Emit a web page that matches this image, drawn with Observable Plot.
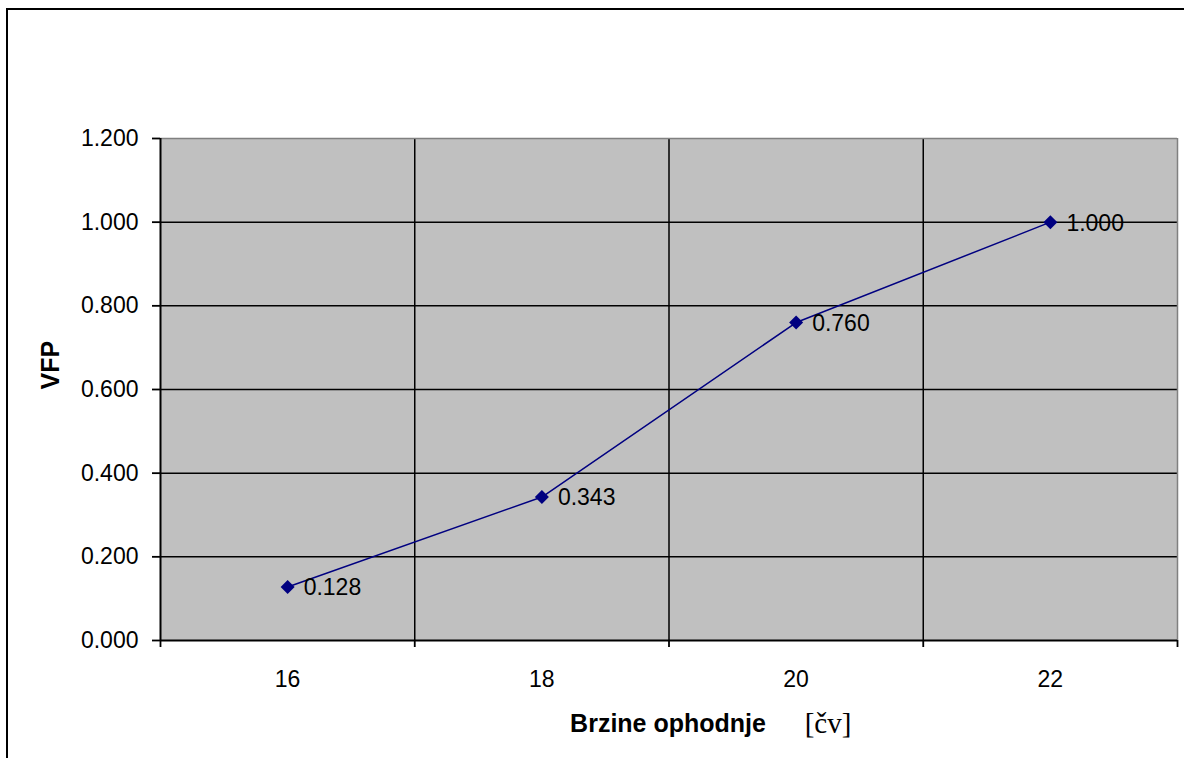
<!DOCTYPE html>
<html>
<head>
<meta charset="utf-8">
<script src="https://cdn.jsdelivr.net/npm/d3@7"></script>
<script src="https://cdn.jsdelivr.net/npm/@observablehq/plot@0.6"></script>
<style>
  html, body { margin: 0; padding: 0; background: #fff; overflow: hidden; }
  #wrap { position: relative; width: 1184px; height: 758px; overflow: hidden; }
  #frame { position: absolute; left: 6px; top: 8px; width: 1300px; height: 900px; border-left: 2px solid #000; border-top: 2px solid #000; box-sizing: border-box; pointer-events: none; }
  #chart { position: absolute; left: 0; top: 0; }
</style>
</head>
<body>
<div id="wrap"><div id="chart"></div><div id="frame"></div></div>
<script>
// Data
const speeds = [16, 18, 20, 22];
const vfp = [0.128, 0.343, 0.760, 1.000];
const yTicks = [0, 0.2, 0.4, 0.6, 0.8, 1.0, 1.2];
const xLabels = [16, 18, 20, 22];
const xEdges = [15, 17, 19, 21, 23];
const xTitle = "Brzine ophodnje";
const xUnit = "[čv]";
const yTitle = "VFP";

const data = speeds.map((s, i) => ({speed: s, value: vfp[i]}));
const fmt = d3.format(".3f");
const sans = "'Liberation Sans', Arial, Helvetica, sans-serif";

const chart = Plot.plot({
  width: 1184,
  height: 758,
  marginLeft: 160,
  marginRight: 7,
  marginTop: 138,
  marginBottom: 118,
  style: {fontFamily: sans, background: "transparent", color: "#000", overflow: "visible"},
  x: {type: "linear", domain: [15, 23], axis: null},
  y: {domain: [0, 1.2], axis: null},
  marks: [
    Plot.frame({fill: "#c0c0c0", stroke: null}),
    // horizontal gridlines
    Plot.ruleY(yTicks.slice(1, -1), {stroke: "#000", strokeWidth: 1.5}),
    // vertical gridlines at category boundaries
    Plot.ruleX(xEdges.slice(1, -1), {stroke: "#000", strokeWidth: 1.5}),
    // plot area top/right border
    Plot.ruleY([1.2], {stroke: "#808080", strokeWidth: 1.5}),
    Plot.ruleX([23], {stroke: "#808080", strokeWidth: 1.5}),
    // axes
    Plot.axisY(yTicks, {tickSize: 8, tickPadding: 14, tickFormat: fmt, fontSize: 23, strokeWidth: 1.8, label: null}),
    Plot.axisX(xEdges, {tickSize: 7, tickFormat: () => "", strokeWidth: 1.8, label: null}),
    Plot.axisX(xLabels, {tickSize: 0, tickPadding: 30, tickFormat: d => String(d), fontSize: 23, label: null}),
    Plot.ruleY([0], {stroke: "#000", strokeWidth: 2}),
    Plot.ruleX([15], {stroke: "#000", strokeWidth: 2}),
    // data
    Plot.line(data, {x: "speed", y: "value", stroke: "#000080", strokeWidth: 1.5}),
    Plot.dot(data, {x: "speed", y: "value", symbol: "diamond2", fill: "#000080", stroke: null, r: 6.3}),
    Plot.text(data, {x: "speed", y: "value", text: d => fmt(d.value), dx: 16, dy: 1, textAnchor: "start", fontSize: 23, fill: "#000"}),
    // titles
    Plot.text([xTitle], {frameAnchor: "bottom", dx: -1, dy: 83, lineAnchor: "middle", fontWeight: "bold", fontSize: 25, fill: "#000"}),
    Plot.text([xUnit], {frameAnchor: "bottom", dx: 159, dy: 83, lineAnchor: "middle", fontFamily: "'Liberation Serif', 'Times New Roman', serif", fontSize: 29, fill: "#000"}),
    Plot.text([yTitle], {frameAnchor: "left", dx: -110, rotate: -90, lineAnchor: "middle", fontWeight: "bold", fontSize: 25, fill: "#000"})
  ]
});
document.getElementById("chart").appendChild(chart);
</script>
</body>
</html>
